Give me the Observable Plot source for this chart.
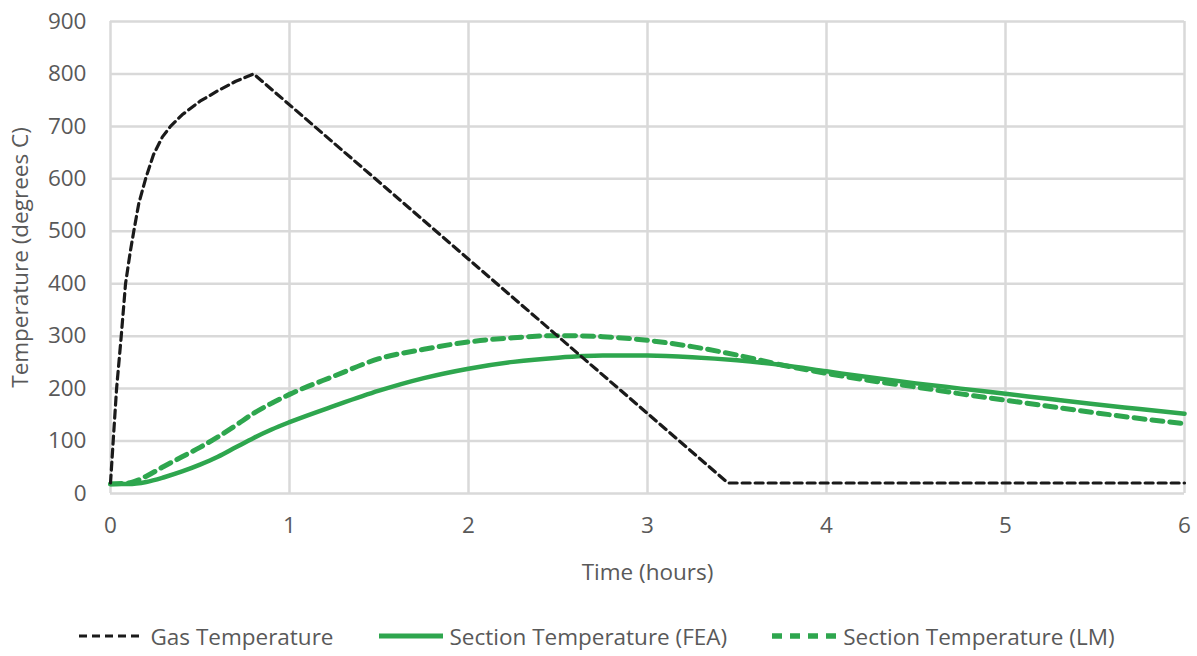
<!DOCTYPE html>
<html>
<head>
<meta charset="utf-8">
<script src="https://cdn.jsdelivr.net/npm/d3@7"></script>
<script src="https://cdn.jsdelivr.net/npm/@observablehq/plot@0.6"></script>
<style>
  body { margin: 0; background: #fff; font-family: "Open Sans", sans-serif; }
  #legend { display: flex; justify-content: center; align-items: center; font-size: 22.5px; color: #595959; height: 56px; margin-top: 8px; margin-left: -4px; }
  #legend .item { display: flex; align-items: center; margin: 0 22px; }
  #legend svg { margin-right: 6px; }
</style>
</head>
<body>
<div id="chart"></div>
<div id="legend"></div>
<script>
// Gas temperature (time in hours, temperature in °C)
const gasTime = [0, 0.015, 0.034, 0.06, 0.084, 0.11, 0.13, 0.158, 0.196, 0.24, 0.29, 0.335, 0.4, 0.5, 0.6, 0.7, 0.8, 3.45, 6];
const gasTemp = [20, 100, 200, 300, 400, 460, 500, 553, 600, 646, 680, 700, 722, 748, 768, 786, 800, 20, 20];

// Section temperature (FEA)
const feaTime = [0, 0.1, 0.2, 0.3, 0.4, 0.5, 0.6, 0.7, 0.8, 0.9, 1.0, 1.25, 1.5, 1.75, 2.0, 2.25, 2.5, 2.75, 3.0, 3.25, 3.5, 3.75, 4.0, 4.25, 4.5, 4.75, 5.0, 5.25, 5.5, 5.75, 6.0];
const feaTemp = [18, 18, 22, 31, 42, 55, 70, 88, 106, 122, 136, 167, 196, 220, 238, 251, 259, 263, 263, 260, 254, 245, 233, 221, 210, 200, 190, 180, 170, 161, 152];

// Section temperature (LM)
const lmTime = [0, 0.1, 0.15, 0.2, 0.3, 0.4, 0.5, 0.6, 0.7, 0.8, 0.9, 1.0, 1.25, 1.5, 1.75, 2.0, 2.25, 2.5, 2.75, 3.0, 3.25, 3.5, 3.75, 4.0, 4.25, 4.5, 4.75, 5.0, 5.25, 5.5, 5.75, 6.0];
const lmTemp = [18, 20, 25, 33, 52, 70, 88, 108, 130, 153, 172, 189, 224, 257, 275, 289, 297, 301, 299, 292, 280, 264, 245, 229, 215, 203, 190, 178, 166, 154, 143, 133];

const xTicks = [0, 1, 2, 3, 4, 5, 6];
const yTicks = [0, 100, 200, 300, 400, 500, 600, 700, 800, 900];

const seriesNames = ["Gas Temperature", "Section Temperature (FEA)", "Section Temperature (LM)"];

const gas = gasTime.map((t, i) => ({t, v: gasTemp[i]}));
const fea = feaTime.map((t, i) => ({t, v: feaTemp[i]}));
const lm = lmTime.map((t, i) => ({t, v: lmTemp[i]}));

const green = "#2ea64e";
const gridColor = "#d9d9d9";

const chart = Plot.plot({
  width: 1197,
  height: 600,
  marginLeft: 110,
  marginRight: 13,
  marginTop: 21,
  marginBottom: 107,
  style: { fontFamily: "Open Sans, sans-serif", color: "#595959", background: "#fff" },
  x: { domain: [0, 6] },
  y: { domain: [0, 900] },
  marks: [
    Plot.ruleX(xTicks, { stroke: gridColor, strokeWidth: 2.5 }),
    Plot.ruleY(yTicks, { stroke: gridColor, strokeWidth: 2.5 }),
    Plot.axisX({ ticks: xTicks, tickFormat: "d", tickSize: 0, tickPadding: 24, fontSize: 22.5, label: "Time (hours)", labelAnchor: "center", labelArrow: "none", labelOffset: 86 }),
    Plot.axisY({ ticks: yTicks, tickSize: 0, tickPadding: 24, fontSize: 22.5, label: "Temperature (degrees C)", labelAnchor: "center", labelArrow: "none", labelOffset: 98 }),
    Plot.line(fea, { x: "t", y: "v", stroke: green, strokeWidth: 4.5, curve: "monotone-x" }),
    Plot.line(lm, { x: "t", y: "v", stroke: green, strokeWidth: 5, strokeDasharray: "11,7", curve: "monotone-x" }),
    Plot.line(gas, { x: "t", y: "v", stroke: "#1a1a1a", strokeWidth: 3.2, strokeDasharray: "8,5", curve: "linear" })
  ]
});
document.getElementById("chart").appendChild(chart);

// Legend
const legendStyles = [
  { stroke: "#1a1a1a", width: 3.2, dash: "8,5" },
  { stroke: green, width: 5, dash: null },
  { stroke: green, width: 5.5, dash: "10,8" }
];
const legend = d3.select("#legend");
seriesNames.forEach((name, i) => {
  const item = legend.append("div").attr("class", "item");
  const s = item.append("svg").attr("width", 66).attr("height", 12);
  const ln = s.append("line").attr("x1", 1).attr("x2", 65).attr("y1", 6).attr("y2", 6)
    .attr("stroke", legendStyles[i].stroke).attr("stroke-width", legendStyles[i].width);
  if (legendStyles[i].dash) ln.attr("stroke-dasharray", legendStyles[i].dash);
  item.append("span").text(name);
});
</script>
</body>
</html>
